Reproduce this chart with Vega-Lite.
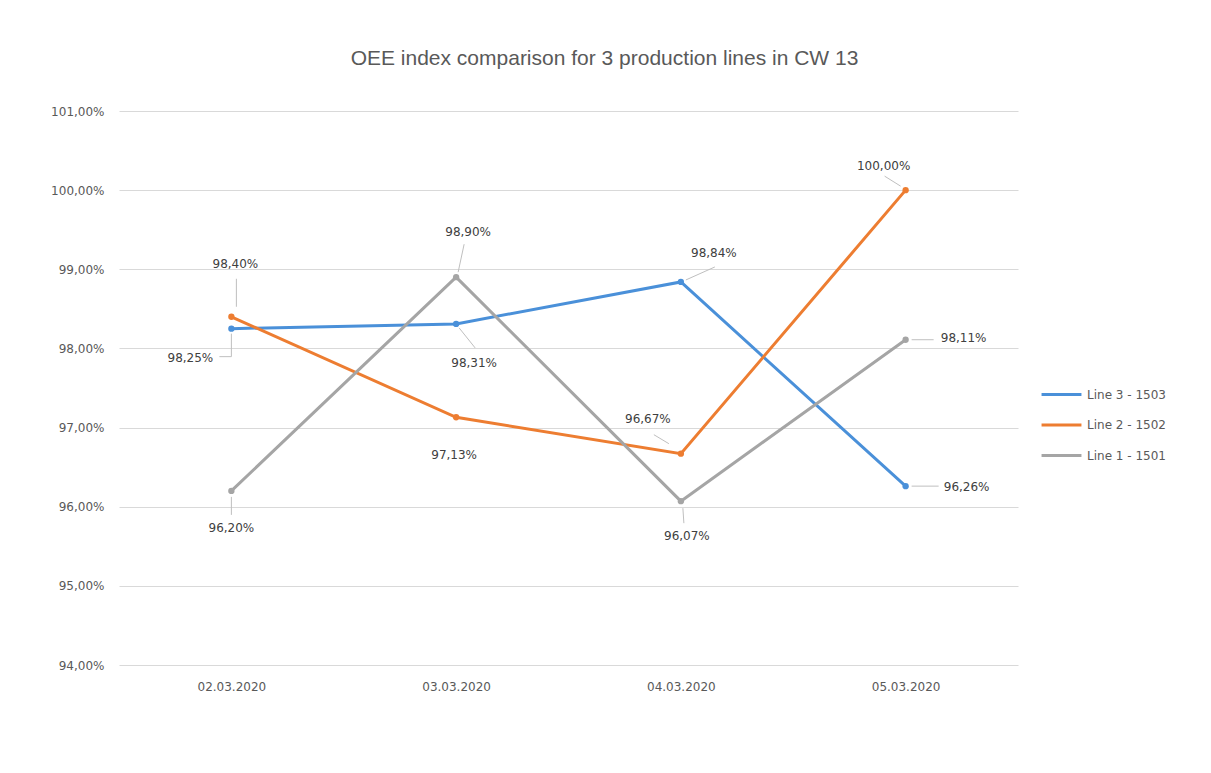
{
  "$schema": "https://vega.github.io/schema/vega-lite/v6.json",
  "width": 899,
  "height": 554,
  "autosize": {"type": "none"},
  "padding": {"left": 119, "top": 111, "right": 193, "bottom": 108},
  "background": "white",
  "title": {
    "text": "OEE index comparison for 3 production lines in CW 13",
    "font": "Liberation Sans",
    "fontSize": 21,
    "fontWeight": "normal",
    "color": "#595959",
    "anchor": "middle",
    "offset": 36,
    "dx": 36
  },
  "config": {
    "view": {"stroke": null},
    "font": "DejaVu Sans",
    "locale": {
      "number": {"decimal": ",", "thousands": ".", "grouping": [3], "currency": ["", " €"]}
    },
    "text": {"font": "DejaVu Sans", "fontSize": 12, "fill": "#404040", "align": "center", "baseline": "middle"},
    "rule": {"color": "#bfbfbf", "strokeWidth": 1}
  },
  "data": {
    "values": [
      {"date": "02.03.2020", "line": "Line 3 - 1503", "value": 0.9825},
      {"date": "03.03.2020", "line": "Line 3 - 1503", "value": 0.9831},
      {"date": "04.03.2020", "line": "Line 3 - 1503", "value": 0.9884},
      {"date": "05.03.2020", "line": "Line 3 - 1503", "value": 0.9626},
      {"date": "02.03.2020", "line": "Line 2 - 1502", "value": 0.9840},
      {"date": "03.03.2020", "line": "Line 2 - 1502", "value": 0.9713},
      {"date": "04.03.2020", "line": "Line 2 - 1502", "value": 0.9667},
      {"date": "05.03.2020", "line": "Line 2 - 1502", "value": 1.0000},
      {"date": "02.03.2020", "line": "Line 1 - 1501", "value": 0.9620},
      {"date": "03.03.2020", "line": "Line 1 - 1501", "value": 0.9890},
      {"date": "04.03.2020", "line": "Line 1 - 1501", "value": 0.9607},
      {"date": "05.03.2020", "line": "Line 1 - 1501", "value": 0.9811}
    ]
  },
  "encoding": {
    "x": {
      "field": "date",
      "type": "ordinal",
      "scale": {"type": "point", "padding": 0.5},
      "axis": {
        "title": null,
        "labelAngle": 0,
        "ticks": false,
        "tickSize": 0,
        "domain": false,
        "grid": false,
        "labelPadding": 16,
        "labelFont": "DejaVu Sans",
        "labelFontSize": 12,
        "labelColor": "#595959"
      }
    },
    "y": {
      "field": "value",
      "type": "quantitative",
      "scale": {"domain": [0.94, 1.01], "nice": false, "zero": false},
      "axis": {
        "title": null,
        "values": [0.94, 0.95, 0.96, 0.97, 0.98, 0.99, 1.0, 1.01],
        "format": ".2%",
        "ticks": false,
        "tickSize": 0,
        "domain": false,
        "grid": true,
        "gridColor": "#d9d9d9",
        "gridWidth": 1,
        "labelPadding": 15,
        "labelFont": "DejaVu Sans",
        "labelFontSize": 12,
        "labelColor": "#595959"
      }
    }
  },
  "layer": [
    {
      "mark": {"type": "line", "strokeWidth": 3, "point": {"filled": true, "size": 40}},
      "encoding": {
        "color": {
          "field": "line",
          "type": "nominal",
          "scale": {
            "domain": ["Line 3 - 1503", "Line 2 - 1502", "Line 1 - 1501"],
            "range": ["#4A90D9", "#ED7D31", "#A5A5A5"]
          },
          "legend": {
            "title": null,
            "orient": "none",
            "legendX": 926,
            "legendY": 267,
            "symbolType": "M-1.33,0H1.33",
            "symbolSize": 900,
            "symbolStrokeWidth": 3,
            "labelFont": "DejaVu Sans",
            "labelFontSize": 12,
            "labelColor": "#595959",
            "labelOffset": 9,
            "rowPadding": 7.5
          }
        }
      }
    },
    {
      "transform": [{"filter": "datum.line === 'Line 3 - 1503' && datum.date === '02.03.2020'"}],
      "layer": [
        {"mark": {"type": "rule", "yOffset": 5, "y2Offset": 28}, "encoding": {"x2": {"field": "date"}, "y2": {"field": "value"}}},
        {"mark": {"type": "rule", "yOffset": 28, "y2Offset": 28, "x2Offset": -12}, "encoding": {"x2": {"field": "date"}, "y2": {"field": "value"}}},
        {"mark": {"type": "text", "dx": -41, "dy": 29}, "encoding": {"text": {"field": "value", "format": ".2%"}}}
      ]
    },
    {
      "transform": [{"filter": "datum.line === 'Line 3 - 1503' && datum.date === '03.03.2020'"}],
      "layer": [
        {"mark": {"type": "rule", "xOffset": 3, "yOffset": 4, "x2Offset": 19, "y2Offset": 24}, "encoding": {"x2": {"field": "date"}, "y2": {"field": "value"}}},
        {"mark": {"type": "text", "dx": 18, "dy": 39}, "encoding": {"text": {"field": "value", "format": ".2%"}}}
      ]
    },
    {
      "transform": [{"filter": "datum.line === 'Line 3 - 1503' && datum.date === '04.03.2020'"}],
      "layer": [
        {"mark": {"type": "rule", "xOffset": 5, "yOffset": -2, "x2Offset": 34, "y2Offset": -15}, "encoding": {"x2": {"field": "date"}, "y2": {"field": "value"}}},
        {"mark": {"type": "text", "dx": 33, "dy": -29}, "encoding": {"text": {"field": "value", "format": ".2%"}}}
      ]
    },
    {
      "transform": [{"filter": "datum.line === 'Line 3 - 1503' && datum.date === '05.03.2020'"}],
      "layer": [
        {"mark": {"type": "rule", "xOffset": 6, "x2Offset": 33}, "encoding": {"x2": {"field": "date"}, "y2": {"field": "value"}}},
        {"mark": {"type": "text", "dx": 61, "dy": 1}, "encoding": {"text": {"field": "value", "format": ".2%"}}}
      ]
    },
    {
      "transform": [{"filter": "datum.line === 'Line 2 - 1502' && datum.date === '02.03.2020'"}],
      "layer": [
        {"mark": {"type": "rule", "xOffset": 5, "x2Offset": 5, "yOffset": -10, "y2Offset": -38}, "encoding": {"x2": {"field": "date"}, "y2": {"field": "value"}}},
        {"mark": {"type": "text", "dx": 4, "dy": -53}, "encoding": {"text": {"field": "value", "format": ".2%"}}}
      ]
    },
    {
      "transform": [{"filter": "datum.line === 'Line 2 - 1502' && datum.date === '03.03.2020'"}],
      "layer": [
        {"mark": {"type": "text", "dx": -2, "dy": 38}, "encoding": {"text": {"field": "value", "format": ".2%"}}}
      ]
    },
    {
      "transform": [{"filter": "datum.line === 'Line 2 - 1502' && datum.date === '04.03.2020'"}],
      "layer": [
        {"mark": {"type": "rule", "xOffset": -12, "yOffset": -10, "x2Offset": -27, "y2Offset": -19}, "encoding": {"x2": {"field": "date"}, "y2": {"field": "value"}}},
        {"mark": {"type": "text", "dx": -33, "dy": -35}, "encoding": {"text": {"field": "value", "format": ".2%"}}}
      ]
    },
    {
      "transform": [{"filter": "datum.line === 'Line 2 - 1502' && datum.date === '05.03.2020'"}],
      "layer": [
        {"mark": {"type": "rule", "xOffset": -5, "yOffset": -4, "x2Offset": -21, "y2Offset": -14}, "encoding": {"x2": {"field": "date"}, "y2": {"field": "value"}}},
        {"mark": {"type": "text", "dx": -22, "dy": -24}, "encoding": {"text": {"field": "value", "format": ".2%"}}}
      ]
    },
    {
      "transform": [{"filter": "datum.line === 'Line 1 - 1501' && datum.date === '02.03.2020'"}],
      "layer": [
        {"mark": {"type": "rule", "yOffset": 6, "y2Offset": 24}, "encoding": {"x2": {"field": "date"}, "y2": {"field": "value"}}},
        {"mark": {"type": "text", "dx": 0, "dy": 37}, "encoding": {"text": {"field": "value", "format": ".2%"}}}
      ]
    },
    {
      "transform": [{"filter": "datum.line === 'Line 1 - 1501' && datum.date === '03.03.2020'"}],
      "layer": [
        {"mark": {"type": "rule", "xOffset": 2, "yOffset": -5, "x2Offset": 8, "y2Offset": -33}, "encoding": {"x2": {"field": "date"}, "y2": {"field": "value"}}},
        {"mark": {"type": "text", "dx": 12, "dy": -45}, "encoding": {"text": {"field": "value", "format": ".2%"}}}
      ]
    },
    {
      "transform": [{"filter": "datum.line === 'Line 1 - 1501' && datum.date === '04.03.2020'"}],
      "layer": [
        {"mark": {"type": "rule", "xOffset": 2, "yOffset": 7, "x2Offset": 3, "y2Offset": 22}, "encoding": {"x2": {"field": "date"}, "y2": {"field": "value"}}},
        {"mark": {"type": "text", "dx": 6, "dy": 35}, "encoding": {"text": {"field": "value", "format": ".2%"}}}
      ]
    },
    {
      "transform": [{"filter": "datum.line === 'Line 1 - 1501' && datum.date === '05.03.2020'"}],
      "layer": [
        {"mark": {"type": "rule", "xOffset": 6, "x2Offset": 28}, "encoding": {"x2": {"field": "date"}, "y2": {"field": "value"}}},
        {"mark": {"type": "text", "dx": 58, "dy": -2}, "encoding": {"text": {"field": "value", "format": ".2%"}}}
      ]
    }
  ]
}
